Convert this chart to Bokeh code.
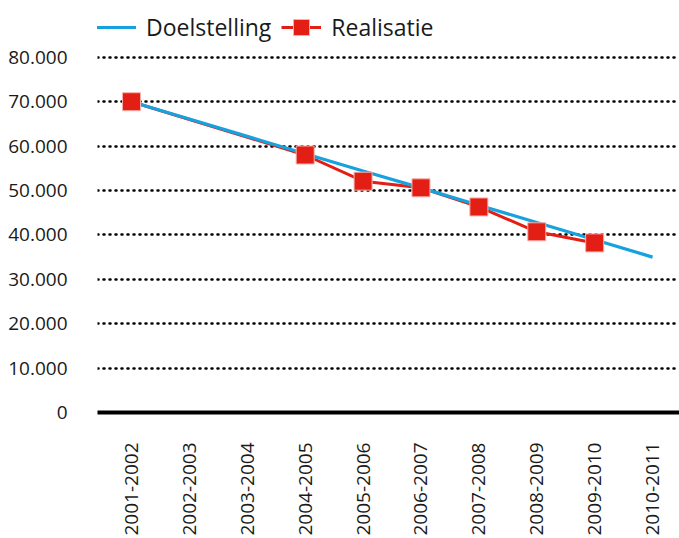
import math
from bokeh.plotting import figure
from bokeh.models import FixedTicker, Range1d, Legend, LegendItem
from bokeh.embed import file_html
from bokeh.resources import INLINE

years = ["2001-2002", "2002-2003", "2003-2004", "2004-2005", "2005-2006",
         "2006-2007", "2007-2008", "2008-2009", "2009-2010", "2010-2011"]
doel_idx = list(range(10))
doelstelling = [70000, 66100, 62200, 58300, 54400, 50600, 46700, 42800, 38900, 35000]
real_idx = [0, 3, 4, 5, 6, 7, 8]
realisatie = [70000, 58000, 52100, 50600, 46300, 40700, 38200]
y_ticks = [0, 10000, 20000, 30000, 40000, 50000, 60000, 70000, 80000]
y_labels = ["0", "10.000", "20.000", "30.000", "40.000", "50.000", "60.000", "70.000", "80.000"]

FONT = "Open Sans"
BLUE = "#17a2de"
RED = "#e31e14"

p = figure(width=679, height=538, output_backend="svg", toolbar_location=None, tools="",
           x_range=Range1d(-0.587, 9.465), y_range=Range1d(0, 92800),
           min_border_left=97, min_border_right=0, min_border_top=0, min_border_bottom=125)
p.outline_line_color = None
p.background_fill_color = "white"

# x axis
p.xaxis.ticker = FixedTicker(ticks=doel_idx)
p.xaxis.major_label_overrides = {i: years[i] for i in doel_idx}
p.xaxis.axis_line_width = 4
p.xaxis.axis_line_color = "black"
p.xaxis.major_tick_line_color = None
p.xaxis.minor_tick_line_color = None
p.xaxis.major_label_orientation = math.pi / 2
p.xaxis.major_label_standoff = 24
p.xaxis.major_label_text_font = FONT
p.xaxis.major_label_text_font_size = "19px"
p.xaxis.major_label_text_color = "#1a1a1a"

# y axis
p.yaxis.ticker = FixedTicker(ticks=y_ticks)
p.yaxis.major_label_overrides = {t: l for t, l in zip(y_ticks, y_labels)}
p.yaxis.axis_line_color = None
p.yaxis.major_tick_line_color = None
p.yaxis.minor_tick_line_color = None
p.yaxis.major_label_standoff = 24
p.yaxis.major_label_text_font = FONT
p.yaxis.major_label_text_font_size = "19px"
p.yaxis.major_label_text_color = "#1a1a1a"

# grids
p.xgrid.grid_line_color = None
p.ygrid.ticker = FixedTicker(ticks=y_ticks[1:])
p.ygrid.grid_line_color = "black"
p.ygrid.grid_line_width = 2.5
p.ygrid.grid_line_dash = "1 5"
p.ygrid.grid_line_cap = "round"

red_line = p.line(real_idx, realisatie, line_color=RED, line_width=3)
blue = p.line(doel_idx, doelstelling, line_color=BLUE, line_width=3.2)
red_sq = p.scatter(real_idx, realisatie, marker="square", size=18,
                   fill_color=RED, line_color="#f6b1ab", line_width=1)

legend = Legend(items=[LegendItem(label="Doelstelling", renderers=[blue]),
                       LegendItem(label="Realisatie", renderers=[red_line, red_sq])],
                orientation="horizontal", location=(-1, 362))
legend.border_line_color = None
legend.background_fill_alpha = 0
legend.padding = 0
legend.margin = 0
legend.spacing = 10
legend.glyph_width = 40
legend.glyph_height = 46
legend.label_standoff = 10
legend.label_text_font = FONT
legend.label_text_font_size = "23px"
legend.label_text_color = "#1a1a1a"
p.add_layout(legend, "center")

open("out.html", "w").write(file_html(p, INLINE))
